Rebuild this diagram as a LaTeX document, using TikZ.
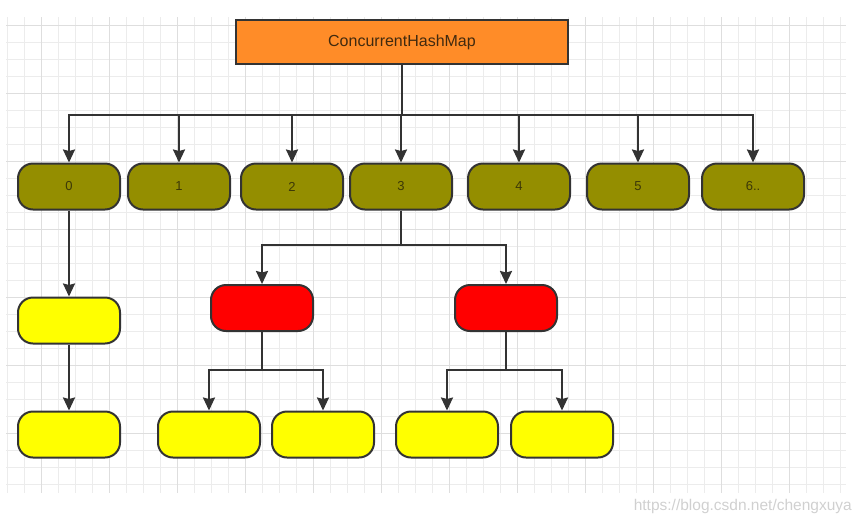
\documentclass[tikz,border=0pt]{standalone}
\usepackage{fontspec}
\setmainfont{Liberation Sans}
\usetikzlibrary{arrows.meta}
\definecolor{gridminor}{RGB}{236,236,236}
\definecolor{gridmajor}{RGB}{222,222,222}
\definecolor{edgecol}{RGB}{51,51,51}
\definecolor{orangefill}{RGB}{255,140,40}
\definecolor{olivefill}{RGB}{148,142,0}
\definecolor{olivetext}{RGB}{60,56,8}
\definecolor{chmtext}{RGB}{65,42,15}
\definecolor{wmark}{RGB}{208,208,208}
\definecolor{yelfill}{RGB}{255,255,0}
\definecolor{redfill}{RGB}{255,0,0}
\tikzset{
  box/.style={draw=edgecol, line width=2pt, minimum width=102pt, minimum height=46pt, inner sep=0pt, rounded corners=15pt},
  rowbox/.style={box, fill=olivefill, text=olivetext, font=\fontsize{13}{15}\selectfont},
  redbox/.style={box, fill=redfill},
  yelbox/.style={box, fill=yelfill},
  topbox/.style={draw=edgecol, line width=2pt, fill=orangefill, minimum width=332pt, minimum height=44pt, inner sep=0pt, text=chmtext, font=\fontsize{16}{18}\selectfont},
  arr/.style={draw=edgecol, line width=2pt, -{Stealth[length=13pt,width=12pt,inset=1.5pt]}},
}
\begin{document}
\begin{tikzpicture}[x=1pt,y=-1pt]
\useasboundingbox (0,0) rectangle (863,523);
% grid
\foreach \x in {7,24,...,841} \draw[gridminor, line width=1pt] (\x,17) -- (\x,493);
\foreach \y in {25,42,...,485} \draw[gridminor, line width=1pt] (6,\y) -- (846,\y);
\foreach \x in {41,109,...,790} \draw[gridmajor, line width=1pt] (\x,17) -- (\x,493);
\foreach \y in {25,93,...,434} \draw[gridmajor, line width=1pt] (6,\y) -- (846,\y);
% nodes
\node[topbox] (chm) at (402,42) {ConcurrentHashMap};
\node[rowbox] (n0) at (69,186.5) {0};
\node[rowbox] (n1) at (179,186.5) {1};
\node[rowbox] (n2) at (292,186.5) {2};
\node[rowbox] (n3) at (401,186.5) {3};
\node[rowbox] (n4) at (519,186.5) {4};
\node[rowbox] (n5) at (638,186.5) {5};
\node[rowbox] (n6) at (753,186.5) {6..};
\node[yelbox] (y1) at (69,320.5) {};
\node[yelbox] (y2) at (69,434.5) {};
\node[redbox] (r1) at (262,308) {};
\node[redbox] (r2) at (506,308) {};
\node[yelbox] (yb) at (209,434.5) {};
\node[yelbox] (yc) at (323,434.5) {};
\node[yelbox] (yd) at (447,434.5) {};
\node[yelbox] (ye) at (562,434.5) {};
% buses
\coordinate (bus) at (0,115);
\coordinate (bus2) at (0,245);
\coordinate (bus3) at (0,370);
% connectors
\foreach \n in {n0,n1,n2,n3,n4,n5,n6}
  \draw[arr] (chm.south) -- (chm.south |- bus) -| (\n.north);
\draw[arr] (n0.south) -- (y1.north);
\draw[arr] (y1.south) -- (y2.north);
\foreach \n in {r1,r2}
  \draw[arr] (n3.south) -- (n3.south |- bus2) -| (\n.north);
\foreach \n in {yb,yc}
  \draw[arr] (r1.south) -- (r1.south |- bus3) -| (\n.north);
\foreach \n in {yd,ye}
  \draw[arr] (r2.south) -- (r2.south |- bus3) -| (\n.north);
% watermark
\node[anchor=east, text=wmark, font=\fontsize{15.5}{17}\selectfont, inner sep=0pt] (wm) at (852,506) {https://blog.csdn.net/chengxuya};
\end{tikzpicture}
\end{document}
